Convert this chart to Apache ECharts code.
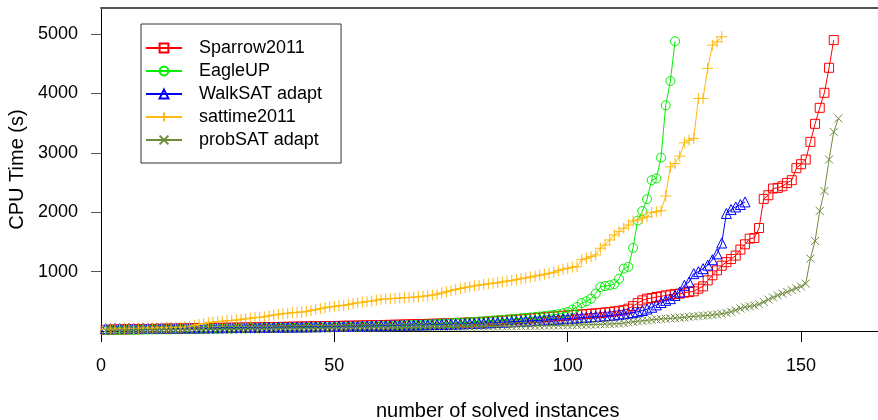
<!DOCTYPE html>
<html><head><meta charset="utf-8">
<script src="https://cdn.jsdelivr.net/npm/echarts@6/dist/echarts.min.js"></script>
<style>html,body{margin:0;padding:0;background:#fff}#c{width:878px;height:420px}</style>
</head><body><div id="c"></div>
<script>
// ---- data (x = 1..n solved instances, y = CPU time in s) ----
const seriesNames = ['Sparrow2011', 'EagleUP', 'WalkSAT adapt', 'sattime2011', 'probSAT adapt'];
const xTicks = [0, 50, 100, 150];
const yTicks = [1000, 2000, 3000, 4000, 5000];

const sparrow2011 = [
  20,22,24,25,27,28,30,31,33,34,
  35,36,38,39,40,41,42,44,45,46,
  47,48,50,51,52,53,55,56,57,58,
  60,61,62,63,65,66,67,68,70,71,
  72,74,75,76,78,79,80,82,83,85,
  86,88,89,91,92,94,95,97,99,100,
  102,104,106,108,110,112,114,116,118,120,
  122,124,127,130,132,135,138,141,144,147,
  150,155,160,166,172,178,184,190,196,202,
  208,214,220,226,232,238,244,250,256,262,
  268,274,280,286,292,298,305,312,320,330,
  340,350,
  376,420,470,516,545,555,572,583,600,612,
  625,629,646,656,668,713,752,853,938,1022,
  1100,1160,1212,1270,1371,1460,1556,1567,1735,2225,
  2287,2400,2410,2438,2494,2540,2742,2809,2888,3186,
  3489,3759,4012,4433,4900
];
const eagleUP = [
  15,16,17,18,19,20,21,22,23,24,
  25,26,27,28,29,30,31,32,33,34,
  35,36,37,38,39,40,41,42,43,44,
  45,46,47,48,49,50,51,52,53,54,
  55,56,57,58,60,61,62,63,64,66,
  67,68,70,72,74,76,78,80,82,84,
  86,88,90,93,96,99,102,105,108,112,
  116,120,124,128,132,136,140,145,150,155,
  160,165,170,176,182,188,194,200,207,214,
  221,228,236,244,252,262,272,285,300,320,
  360,405,470,500,545,630,
  740,757,770,790,880,1050,1080,1400,1860,2020,
  2220,2540,2570,2920,3800,4210,4880
];
const walkSATadapt = [
  40,41,42,43,44,45,46,47,48,49,
  50,50,51,51,52,52,53,53,54,54,
  55,55,56,56,57,57,58,58,59,60,
  60,61,62,62,63,64,65,66,66,67,
  68,69,70,71,72,73,74,75,76,77,
  78,79,80,81,82,84,85,86,88,89,
  90,92,93,95,96,98,100,102,104,106,
  108,110,112,114,116,118,120,123,126,129,
  132,135,138,141,144,148,152,156,160,164,
  168,172,176,180,185,190,195,200,205,210,
  215,220,226,232,238,244,250,256,262,270,
  280,290,300,310,325,345,370,400,440,480,
  516,545,600,656,769,825,966,1000,1050,1110,
  1200,1300,1482,1980,2045,2090,2130,2174
];
const sattime2011 = [
  30,32,34,36,38,40,42,44,46,48,
  50,52,54,56,58,60,65,72,80,95,
  110,125,140,150,158,165,172,178,184,195,
  205,215,225,232,240,255,270,282,291,300,
  308,314,319,330,345,360,376,390,405,415,
  425,432,445,460,475,485,495,505,520,535,
  540,545,550,555,560,565,570,575,585,595,
  605,620,640,660,680,700,715,730,745,760,
  772,785,795,805,815,828,840,852,865,880,
  895,910,925,940,955,970,990,1016,
  1040,1057,1074,1084,1200,1225,1252,1281,1393,1449,
  1533,1617,1673,1730,1786,1853,1870,1900,1925,1993,
  2009,2026,
  2274,2764,2821,2945,3169,3214,3243,3917,3917,4423,
  4815,4870,4956
];
const probSATadapt = [
  10,11,12,13,14,15,16,17,18,19,
  20,20,21,21,22,22,23,23,24,24,
  25,25,26,26,27,27,28,28,29,29,
  30,30,31,31,32,33,34,35,36,37,
  38,39,40,41,42,43,44,45,46,47,
  48,49,50,50,51,51,52,52,53,53,
  54,55,56,57,58,59,60,61,62,63,
  64,65,66,67,68,69,70,71,72,73,
  74,75,76,77,78,79,80,81,82,84,
  85,86,87,88,89,90,92,94,96,98,
  100,102,104,106,108,110,113,116,119,122,
  125,135,145,155,165,172,180,188,196,203,
  207,212,218,224,230,238,246,252,258,263,
  270,280,290,305,325,350,380,400,415,430,
  450,490,530,565,600,630,660,690,720,750,
  798,1219,1516,2022,2359,2888,3354,3580
];

const seriesData = [sparrow2011, eagleUP, walkSATadapt, sattime2011, probSATadapt];
const colors = ['#FF0000', '#00EE00', '#0000FF', '#FFB90F', '#6E8B3D'];
const symbols = [
  'rect',
  'circle',
  'triangle',
  'path://M5,0L5,10M0,5L10,5',
  'path://M0,0L10,10M0,10L10,0'
];
const symbolSizes = [9, 9, 10, 11, 8];

const FONT = '"Liberation Sans", Arial, Helvetica, sans-serif';
const chart = echarts.init(document.getElementById('c'), null, {renderer: 'canvas'});

const series = seriesNames.map((name, k) => ({
  name: name,
  type: 'line',
  data: seriesData[k].map((v, i) => [i + 1, v]),
  symbol: symbols[k],
  symbolSize: symbolSizes[k],
  showAllSymbol: true,
  lineStyle: {color: colors[k], width: 1},
  itemStyle: {color: 'rgba(0,0,0,0)', borderColor: colors[k], borderWidth: 1},
  emphasis: {disabled: true},
  z: 2 + k,
  animation: false
}));

chart.setOption({
  animation: false,
  backgroundColor: '#ffffff',
  textStyle: {fontFamily: FONT},
  grid: {left: 101, top: 8, width: 793.4, height: 323, containLabel: false, outerBoundsMode: 'none'},
  legend: {
    orient: 'vertical',
    left: 141, top: 24,
    padding: [15, 19, 14, 4],
    itemWidth: 36, itemHeight: 11, itemGap: 5,
    borderColor: '#333', borderWidth: 1,
    backgroundColor: '#fff',
    selectedMode: false,
    textStyle: {fontSize: 18, color: '#000', fontFamily: FONT, padding: [0, 0, 0, 12]},
    data: seriesNames
  },
  xAxis: [{
    type: 'value', min: 0, max: 170, interval: 50,
    position: 'bottom',
    name: 'number of solved instances',
    nameLocation: 'middle', nameGap: 70,
    nameTextStyle: {fontSize: 20, color: '#000', fontFamily: FONT},
    axisLine: {show: true, onZero: false, lineStyle: {color: '#000', width: 1}},
    axisTick: {show: true, length: 11, lineStyle: {color: '#000'}, customValues: xTicks},
    axisLabel: {fontSize: 18, color: '#000', margin: 26, fontFamily: FONT, customValues: xTicks,
      formatter: v => String(v)},
    splitLine: {show: false}
  }, {
    type: 'value', min: 0, max: 170,
    position: 'top',
    axisLine: {show: true, onZero: false, lineStyle: {color: '#555', width: 2}},
    axisTick: {show: false}, axisLabel: {show: false}, splitLine: {show: false}
  }],
  yAxis: {
    type: 'value', min: 0, max: 5440, interval: 1000,
    name: 'CPU Time (s)',
    nameLocation: 'middle', nameGap: 68,
    nameTextStyle: {fontSize: 20, color: '#000', fontFamily: FONT},
    axisLine: {show: true, onZero: false, lineStyle: {color: '#000', width: 1}},
    axisTick: {show: true, length: 10, lineStyle: {color: '#555'}, customValues: yTicks},
    axisLabel: {fontSize: 18, color: '#000', margin: 23, fontFamily: FONT, customValues: yTicks,
      formatter: v => String(v)},
    splitLine: {show: false}
  },
  series: series
});
</script>
</body></html>
